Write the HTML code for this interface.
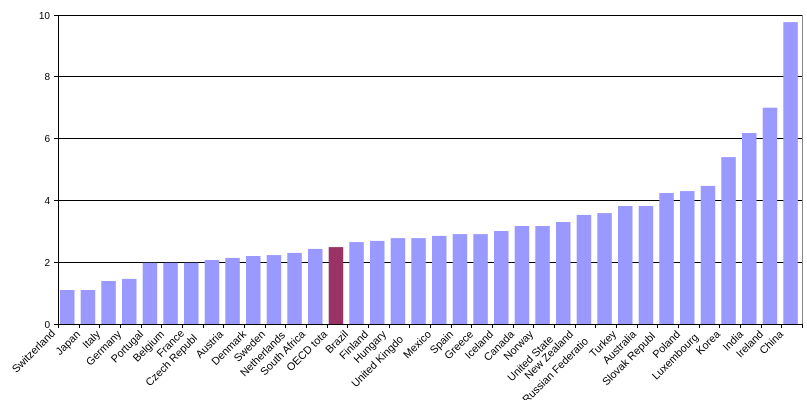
<!DOCTYPE html>
<html><head><style>
html,body{margin:0;padding:0;background:#fff;}
svg{display:block;font-family:"Liberation Sans",Arial,sans-serif;}
</style></head><body>
<svg width="807" height="400" viewBox="0 0 807 400" xmlns="http://www.w3.org/2000/svg">
<g stroke="#000" stroke-width="1">
<line x1="58" y1="262.5" x2="802" y2="262.5"/>
<line x1="58" y1="200.5" x2="802" y2="200.5"/>
<line x1="58" y1="138.5" x2="802" y2="138.5"/>
<line x1="58" y1="76.5" x2="802" y2="76.5"/>
<line x1="58" y1="15.5" x2="802" y2="15.5"/>
</g>
<line x1="802.5" y1="15" x2="802.5" y2="324" stroke="#888"/>
<g id="bars" fill="#9999ff"></g>
<g stroke="#000">
<line x1="58.5" y1="15" x2="58.5" y2="325"/>
<line x1="58" y1="324.5" x2="802" y2="324.5"/>
<line x1="54" y1="324.5" x2="58" y2="324.5"/>
<line x1="54" y1="262.5" x2="58" y2="262.5"/>
<line x1="54" y1="200.5" x2="58" y2="200.5"/>
<line x1="54" y1="138.5" x2="58" y2="138.5"/>
<line x1="54" y1="76.5" x2="58" y2="76.5"/>
<line x1="54" y1="15.5" x2="58" y2="15.5"/>
</g>
<g id="ticks" stroke="#000"></g>
<g font-size="10" text-anchor="end" fill="#000">
<text x="50" y="328">0</text>
<text x="50" y="266">2</text>
<text x="50" y="204">4</text>
<text x="50" y="142">6</text>
<text x="50" y="80">8</text>
<text x="50" y="19">10</text>
</g>
<g id="labels" font-size="10.8" text-anchor="end" fill="#000"></g>
<script>
var vals=[1.1,1.1,1.39,1.46,1.98,1.98,1.98,2.07,2.14,2.2,2.23,2.3,2.43,2.49,2.65,2.69,2.78,2.78,2.85,2.91,2.91,3.01,3.17,3.17,3.3,3.53,3.59,3.82,3.82,4.24,4.3,4.47,5.4,6.18,7.0,9.77];
var ns="http://www.w3.org/2000/svg";
var b=document.getElementById("bars"),t=document.getElementById("ticks"),L=document.getElementById("labels");
var sp=744/36;
vals.forEach(function(v,i){
 var r=document.createElementNS(ns,"rect");
 var h=v*30.9;
 r.setAttribute("x",(60+i*sp).toFixed(1));r.setAttribute("y",(324-h).toFixed(1));
 r.setAttribute("width","14.5");r.setAttribute("height",h.toFixed(1));
 if(i==13)r.setAttribute("fill","#993366");
 b.appendChild(r);
});
for(var i=0;i<=36;i++){var l=document.createElementNS(ns,"line");var x=Math.round(58+i*sp)+0.5;l.setAttribute("x1",x);l.setAttribute("x2",x);l.setAttribute("y1",324);l.setAttribute("y2",328);t.appendChild(l);}
var labs=[["Switzerland",53,331],["Japan",78,332],["Italy",98,332],["Germany",119,332],["Portugal",141,332],["Belgium",162,332],["France",182,331],["Czech Republ",195,336],["Austria",221,332],["Denmark",244,332],["Sweden",263,332],["Netherlands",283,333],["South Africa",303,332],["OECD tota",325,332],["Brazil",346,332],["Finland",366,332],["Hungary",384,332],["United Kingdo",401,337],["Mexico",429,332],["Spain",451,332],["Greece",471,332],["Iceland",491,332],["Canada",512,332],["Norway",531,332],["United State",551,337],["New Zealand",571,332],["Russian Federatio",586,339],["Turkey",614,332],["Australia",634,332],["Slovak Republ",653,334],["Poland",678,332],["Luxembourg",696,335],["Korea",718,332],["India",741,332],["Ireland",761,332],["China",781,332]];
labs.forEach(function(a){var e=document.createElementNS(ns,"text");e.setAttribute("x",a[1]);e.setAttribute("y",a[2]+4);e.setAttribute("transform","rotate(-45 "+a[1]+" "+a[2]+")");e.textContent=a[0];L.appendChild(e);});
</script>
</svg>
</body></html>
